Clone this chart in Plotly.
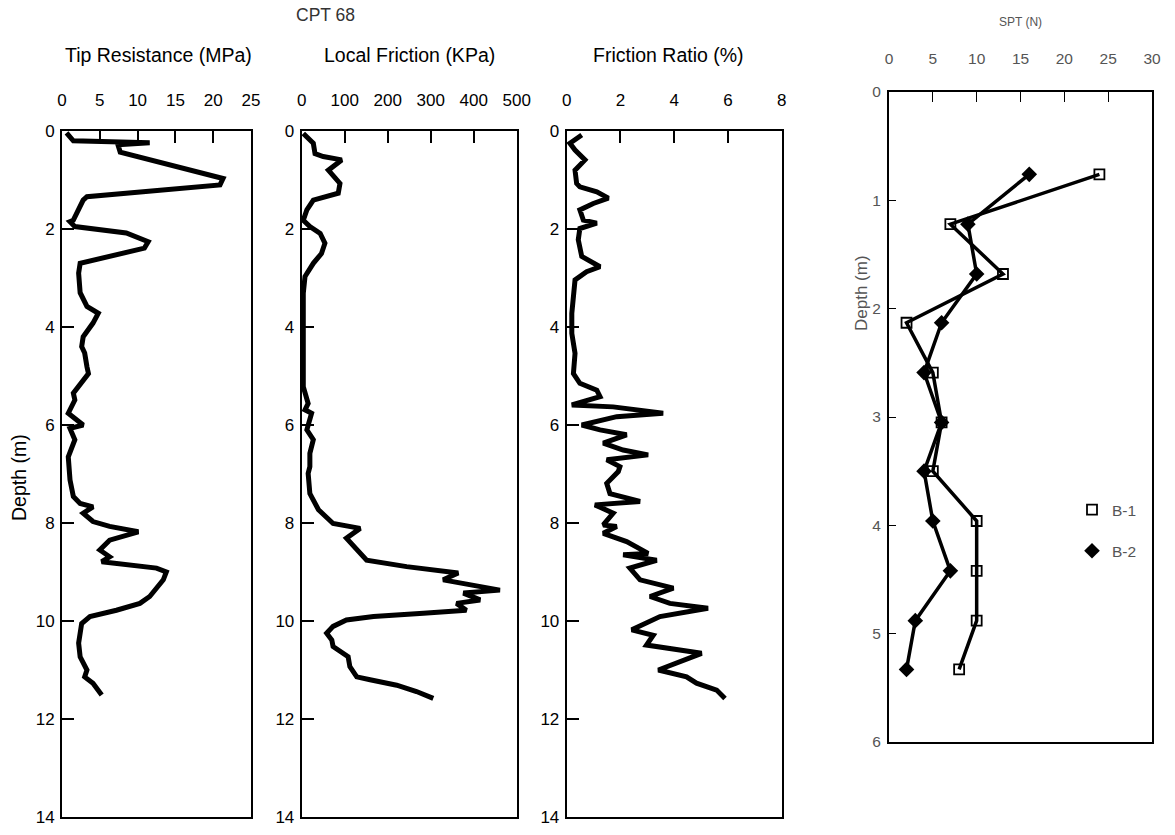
import plotly.graph_objects as go

# ---------------- data ----------------
tip_depth = [0.04, 0.2, 0.24, 0.28, 0.43, 0.97, 1.1, 1.34, 1.41, 1.6, 1.82, 1.85, 1.95, 2.08, 2.26, 2.39,
             2.63, 2.7, 2.9, 3.3, 3.58, 3.72, 3.92, 4.2, 4.4, 4.53, 4.81, 4.95, 5.35, 5.49, 5.76, 6.0,
             6.07, 6.3, 6.65, 7.12, 7.46, 7.6, 7.67, 7.8, 7.97, 8.07, 8.18, 8.35, 8.55, 8.69, 8.79,
             8.92, 9.0, 9.16, 9.5, 9.64, 9.78, 9.91, 10.05, 10.45, 10.73, 11.0, 11.14, 11.27, 11.51]
tip_mpa = [0.6, 1.5, 11.6, 7.4, 7.7, 21.3, 20.9, 3.3, 2.8, 2.2, 1.5, 1.05, 1.7, 8.5, 11.4, 10.9,
           4.1, 2.4, 2.2, 2.4, 3.3, 4.8, 4.1, 2.8, 2.6, 3.0, 3.3, 3.5, 1.5, 1.7, 0.83, 2.8,
           1.06, 1.7, 0.83, 1.06, 1.5, 2.4, 4.1, 2.8, 4.1, 6.3, 10.1, 6.3, 5.0, 6.3, 5.25,
           12.5, 13.8, 13.4, 11.6, 10.3, 7.2, 3.7, 2.6, 2.2, 2.4, 3.3, 3.0, 4.1, 5.25]

fric_depth = [0.05, 0.25, 0.46, 0.52, 0.59, 0.8, 1.07, 1.27, 1.41, 1.61, 1.82, 1.95, 2.09, 2.29, 2.5,
              2.7, 2.97, 3.31, 4.54, 5.22, 5.56, 5.69, 5.76, 6.1, 6.3, 6.58, 6.85, 6.99, 7.4, 7.73,
              8.01, 8.11, 8.31, 8.55, 8.76, 8.89, 8.96, 9.02, 9.16, 9.37, 9.43, 9.57, 9.64, 9.78,
              9.84, 9.91, 9.98, 10.11, 10.25, 10.39, 10.52, 10.73, 10.93, 11.14, 11.2, 11.31,
              11.44, 11.58]
fric_kpa = [3.7, 27, 31, 50, 93, 62, 89, 85, 27, 12, 3.7, 19, 43, 54, 46,
            27, 7.7, 3.7, 3.7, 3.7, 15, 7.7, 23, 12, 27, 19, 19, 15, 19, 39,
            73, 136, 104, 128, 151, 244, 314, 364, 329, 461, 376, 415, 360, 383,
            283, 167, 104, 73, 58, 70, 73, 108, 112, 128, 159, 221,
            267, 306]

ratio_depth = [0.08, 0.25, 0.39, 0.59, 0.8, 1.07, 1.14, 1.24, 1.37, 1.48, 1.61, 1.82, 1.88, 1.99,
               2.22, 2.56, 2.77, 2.87, 3.04, 3.31, 3.72, 4.13, 4.54, 4.95, 5.15, 5.29, 5.42, 5.59,
               5.63, 5.76, 5.83, 6.0, 6.1, 6.2, 6.37, 6.51, 6.61, 6.71, 6.85, 6.95, 7.19, 7.4,
               7.56, 7.63, 7.8, 8.04, 8.07, 8.21, 8.38, 8.62, 8.65, 8.76, 8.92, 9.16, 9.33, 9.5,
               9.64, 9.74, 9.91, 10.18, 10.29, 10.49, 10.66, 11.0, 11.14, 11.27, 11.41, 11.58]
ratio_pct = [0.56, 0.12, 0.31, 0.68, 0.31, 0.37, 0.49, 1.12, 1.55, 0.99, 0.49, 0.62, 1.12, 0.49,
             0.43, 0.56, 1.24, 0.74, 0.31, 0.25, 0.19, 0.19, 0.31, 0.25, 0.49, 1.12, 1.24, 0.19,
             1.73, 3.59, 1.86, 0.56, 1.24, 2.23, 1.36, 2.1, 3.03, 1.49, 1.98, 1.92, 1.49, 1.61,
             2.73, 1.05, 1.73, 1.36, 1.86, 1.36, 2.23, 3.03, 2.1, 3.35, 2.35, 2.73, 3.97, 3.1,
             3.84, 5.26, 3.47, 2.42, 3.22, 2.97, 5.02, 3.41, 4.46, 4.83, 5.58, 5.89]

spt_depth = [0.76, 1.22, 1.68, 2.13, 2.59, 3.05, 3.50, 3.96, 4.42, 4.88, 5.33]
spt_b1 = [24, 7, 13, 2, 5, 6, 5, 10, 10, 10, 8]
spt_b2 = [16, 9, 10, 6, 4, 6, 4, 5, 7, 3, 2]

cpt_depth_ticks = [0, 2, 4, 6, 8, 10, 12, 14]
tip_ticks = [0, 5, 10, 15, 20, 25]
fric_ticks = [0, 100, 200, 300, 400, 500]
ratio_ticks = [0, 2, 4, 6, 8]
spt_ticks = [0, 5, 10, 15, 20, 25, 30]
spt_depth_ticks = [0, 1, 2, 3, 4, 5, 6]

# ---------------- layout geometry ----------------
W, H = 1175, 835
def px(x):
    return x / W
def py(y):
    return 1 - y / H

FONT = "Liberation Sans"
cpt_y = [py(817), py(131)]
spt_y = [py(742), py(92)]

fig = go.Figure()

line_style = dict(color="black", width=5)
fig.add_trace(go.Scatter(x=tip_mpa, y=tip_depth, mode="lines", line=line_style,
                         xaxis="x", yaxis="y", showlegend=False))
fig.add_trace(go.Scatter(x=fric_kpa, y=fric_depth, mode="lines", line=line_style,
                         xaxis="x2", yaxis="y2", showlegend=False))
fig.add_trace(go.Scatter(x=ratio_pct, y=ratio_depth, mode="lines", line=line_style,
                         xaxis="x3", yaxis="y3", showlegend=False))

b1_marker = dict(symbol="square-open", size=10, color="black", line=dict(width=1.8, color="black"))
b2_marker = dict(symbol="diamond", size=12, color="black")
fig.add_trace(go.Scatter(x=spt_b1, y=spt_depth, mode="lines+markers", name="B-1",
                         line=dict(color="black", width=3.5), marker=b1_marker,
                         xaxis="x4", yaxis="y4", showlegend=False))
fig.add_trace(go.Scatter(x=spt_b2, y=spt_depth, mode="lines+markers", name="B-2",
                         line=dict(color="black", width=3.5), marker=b2_marker,
                         xaxis="x4", yaxis="y4", showlegend=False))
# legend entries (marker only, as in the original key)
fig.add_trace(go.Scatter(x=[None], y=[None], mode="markers", name="B-1", marker=b1_marker,
                         xaxis="x4", yaxis="y4", legendgroup="b1"))
fig.add_trace(go.Scatter(x=[None], y=[None], mode="markers", name="B-2", marker=b2_marker,
                         xaxis="x4", yaxis="y4", legendgroup="b2"))

tickfont = dict(family=FONT, size=17, color="black")
def cpt_xaxis(dom, rng, ticks):
    return dict(domain=dom, range=rng, side="top", tickvals=ticks, ticks="inside",
                ticklen=12, tickwidth=1.5, tickcolor="black", showline=True, linewidth=2,
                linecolor="black", mirror=True, showgrid=False, zeroline=False,
                tickfont=tickfont, ticklabelstandoff=16, fixedrange=True)

def cpt_yaxis(anchor):
    return dict(domain=cpt_y, range=[14, 0], tickvals=cpt_depth_ticks, ticks="inside",
                ticklen=12, tickwidth=1.5, tickcolor="black", showline=True, linewidth=2,
                linecolor="black", mirror=True, showgrid=False, zeroline=False,
                tickfont=tickfont, anchor=anchor, ticklabelstandoff=2)

spt_font = dict(family=FONT, size=15.5, color="#555")

fig.update_layout(
    width=W, height=H,
    margin=dict(l=0, r=0, t=0, b=0, autoexpand=False),
    paper_bgcolor="white", plot_bgcolor="white",
    xaxis=cpt_xaxis([px(62), px(251)], [0, 25], tip_ticks) | dict(anchor="y"),
    yaxis=cpt_yaxis("x"),
    xaxis2=cpt_xaxis([px(301.7), px(516.7)], [0, 500], fric_ticks) | dict(anchor="y2"),
    yaxis2=cpt_yaxis("x2"),
    xaxis3=cpt_xaxis([px(566.7), px(781.7)], [0, 8], ratio_ticks) | dict(anchor="y3"),
    yaxis3=cpt_yaxis("x3"),
    xaxis4=dict(domain=[px(889), px(1152)], range=[0, 30], side="top", tickvals=spt_ticks,
                ticks="inside", ticklen=10, tickwidth=1.2, tickcolor="black", showline=True,
                linewidth=2, linecolor="black", mirror=True, showgrid=False, zeroline=False,
                tickfont=spt_font, ticklabelstandoff=20, anchor="y4"),
    yaxis4=dict(domain=spt_y, range=[6, 0], tickvals=spt_depth_ticks, ticks="inside",
                ticklen=7, tickwidth=1.2, tickcolor="black", showline=True, linewidth=2,
                linecolor="black", mirror=True, showgrid=False, zeroline=False,
                tickfont=spt_font, anchor="x4", ticklabelstandoff=3),
    legend=dict(x=px(1072), y=py(493), xanchor="left", yanchor="top",
                font=dict(family=FONT, size=15.5, color="#555"), bgcolor="rgba(0,0,0,0)",
                tracegroupgap=18),
    showlegend=True,
)

def ann(text, x, y, size, color="black", angle=0):
    fig.add_annotation(text=text, x=px(x), y=py(y), xref="paper", yref="paper",
                       showarrow=False, xanchor="center", yanchor="middle", textangle=angle,
                       font=dict(family=FONT, size=size, color=color))

ann("CPT 68", 325, 15, 17.5, "#333")
ann("Tip Resistance (MPa)", 158, 55, 19.5)
ann("Local Friction (KPa)", 409, 55, 19.5)
ann("Friction Ratio (%)", 668, 55, 19.5)
ann("Depth (m)", 19, 478, 19.5, angle=-90)
ann("SPT (N)", 1020, 22, 12, "#555")
ann("Depth (m)", 862, 293, 17, "#555", angle=-90)

fig.write_html("out.html")
